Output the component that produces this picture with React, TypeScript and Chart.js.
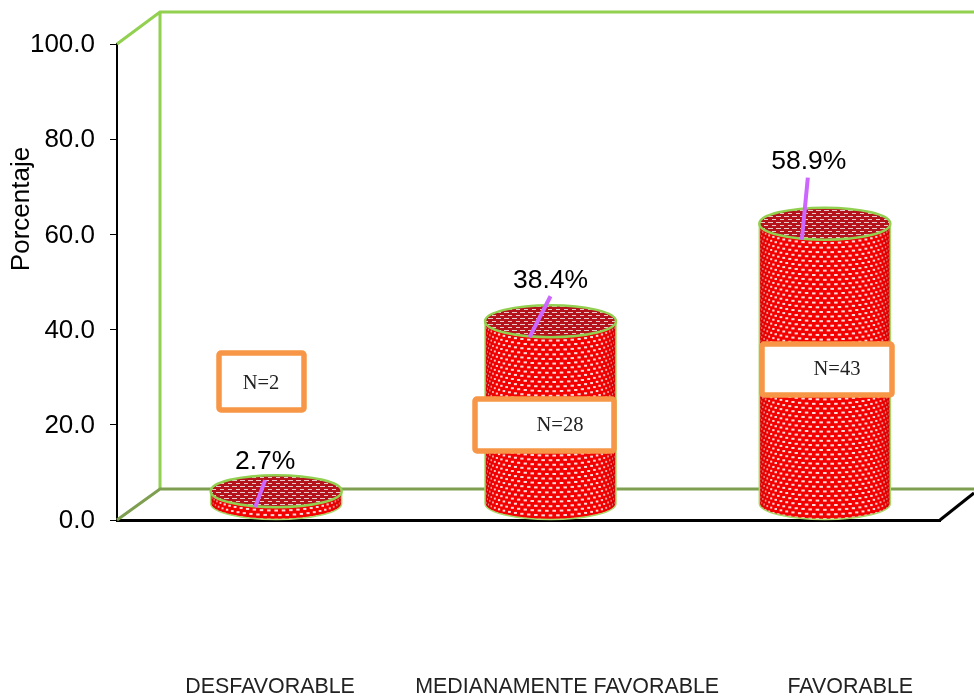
import React, { useEffect, useRef } from "react";
import { Chart, registerables } from "chart.js";

Chart.register(...registerables);

const categories = ["DESFAVORABLE", "MEDIANAMENTE FAVORABLE", "FAVORABLE"];
const percentages = [2.7, 38.4, 58.9];
const counts = [2, 28, 43];
const yTicks = [0, 20, 40, 60, 80, 100];
const axisTitle = "Porcentaje";

// layout of decorations (pixels / offsets, not data)
const SANS = "'Liberation Sans', Arial, sans-serif";
const SERIF = "'Liberation Serif', 'Times New Roman', serif";
const AREA = { left: 117, right: 940, top: 44, bottom: 520 };
const DEPTH = { x: 43, y: 31 };
const CYL = { shift: 22, rx: 65.5, ry: 16 };
const labelSlots = [0.186, 0.547, 0.891];
const leaders = [
  { bx: -21, tx: -11, ty: -27, lx: -11, ly: -46 },
  { bx: -21, tx: 0, ty: -41, lx: 0, ly: -58 },
  { bx: -23, tx: -17, ty: -62, lx: -16, ly: -79 },
];
const noteBoxes = [
  { x: 219, y: 353, w: 85, h: 57, tx: 261, ty: 383 },
  { x: 475, y: 399, w: 139, h: 52, tx: 560, ty: 425 },
  { x: 762, y: 344, w: 130, h: 51, tx: 837, ty: 369 },
];

function makePattern(ctx: CanvasRenderingContext2D, base: string, dot: string, dw: number, dh: number, sx: number, sy: number) {
  const c = document.createElement("canvas");
  c.width = sx;
  c.height = sy * 2;
  const g = c.getContext("2d")!;
  g.fillStyle = base;
  g.fillRect(0, 0, sx, sy * 2);
  g.fillStyle = dot;
  g.fillRect(0, 0, dw, dh);
  g.fillRect(sx / 2, sy, dw, dh);
  return ctx.createPattern(c, "repeat")!;
}

function drawSideTexture(ctx: CanvasRenderingContext2D, cx: number, topY: number, botY: number) {
  const rowGap = 4.6;
  const dTheta = 7.4 / CYL.rx;
  ctx.fillStyle = "#ffffff";
  let row = 0;
  for (let y = topY - CYL.ry; y < botY + CYL.ry; y += rowGap, row++) {
    const start = row % 2 ? dTheta / 2 : 0;
    for (let k = -14; k <= 14; k++) {
      const t = start + k * dTheta;
      if (Math.abs(t) > Math.PI / 2) continue;
      const w = 3.6 * Math.cos(t);
      const px = cx + CYL.rx * Math.sin(t);
      const py = y + CYL.ry * Math.cos(t);
      ctx.fillRect(px - w / 2, py, w, 2);
    }
  }
}

const scene = {
  id: "scene",
  beforeDatasetsDraw(chart: any) {
    const { ctx, chartArea: a } = chart;
    ctx.save();
    ctx.lineCap = "butt";
    // back wall
    ctx.strokeStyle = "#92d050";
    ctx.lineWidth = 3;
    ctx.beginPath();
    ctx.moveTo(a.left, a.top);
    ctx.lineTo(a.left + DEPTH.x, a.top - DEPTH.y - 1);
    ctx.lineTo(974, a.top - DEPTH.y - 1);
    ctx.moveTo(a.left + DEPTH.x, a.top - DEPTH.y - 1);
    ctx.lineTo(a.left + DEPTH.x, a.bottom - DEPTH.y);
    ctx.stroke();
    // back floor edge
    ctx.strokeStyle = "#7f9f50";
    ctx.beginPath();
    ctx.moveTo(a.left, a.bottom);
    ctx.lineTo(a.left + DEPTH.x, a.bottom - DEPTH.y);
    ctx.lineTo(974, a.bottom - DEPTH.y);
    ctx.stroke();
    // floor right edge
    ctx.strokeStyle = "#000";
    ctx.beginPath();
    ctx.moveTo(a.right, a.bottom);
    ctx.lineTo(974, a.bottom - 27);
    ctx.stroke();
    ctx.restore();
  },
  afterDatasetsDraw(chart: any) {
    const { ctx } = chart;
    const bars = chart.getDatasetMeta(0).data;
    const cap = makePattern(ctx, "#b5121b", "#e8cccc", 5, 1, 8, 3);
    ctx.save();
    bars.forEach((bar: any) => {
      const cx = bar.x + CYL.shift;
      const topY = bar.y - CYL.ry;
      const botY = bar.base - CYL.ry;
      // side
      const sidePath = new Path2D();
      sidePath.moveTo(cx - CYL.rx, topY);
      sidePath.lineTo(cx - CYL.rx, botY);
      sidePath.ellipse(cx, botY, CYL.rx, CYL.ry, 0, Math.PI, 0, true);
      sidePath.lineTo(cx + CYL.rx, topY);
      sidePath.closePath();
      ctx.fillStyle = "#f40000";
      ctx.fill(sidePath);
      ctx.save();
      ctx.clip(sidePath);
      drawSideTexture(ctx, cx, topY, botY);
      ctx.restore();
      const shade = ctx.createLinearGradient(cx - CYL.rx, 0, cx + CYL.rx, 0);
      shade.addColorStop(0, "rgba(190,0,0,0.6)");
      shade.addColorStop(0.1, "rgba(240,0,0,0.15)");
      shade.addColorStop(0.88, "rgba(240,0,0,0.15)");
      shade.addColorStop(1, "rgba(190,0,0,0.65)");
      ctx.fillStyle = shade;
      ctx.fill(sidePath);
      // side outline
      ctx.strokeStyle = "#a6d96a";
      ctx.lineWidth = 1.5;
      ctx.beginPath();
      ctx.moveTo(cx - CYL.rx, topY);
      ctx.lineTo(cx - CYL.rx, botY);
      ctx.ellipse(cx, botY, CYL.rx, CYL.ry, 0, Math.PI, 0, true);
      ctx.lineTo(cx + CYL.rx, topY);
      ctx.stroke();
      // top cap
      ctx.beginPath();
      ctx.ellipse(cx, topY, CYL.rx, CYL.ry, 0, 0, Math.PI * 2);
      ctx.fillStyle = cap;
      ctx.fill();
      ctx.strokeStyle = "#92d050";
      ctx.lineWidth = 2.5;
      ctx.stroke();
    });
    // leader lines and value labels
    bars.forEach((bar: any, i: number) => {
      const cx = bar.x + CYL.shift;
      const l = leaders[i];
      ctx.strokeStyle = "#cc66ff";
      ctx.lineWidth = 4;
      ctx.beginPath();
      ctx.moveTo(cx + l.bx, bar.y);
      ctx.lineTo(cx + l.tx, bar.y + l.ty);
      ctx.stroke();
      ctx.fillStyle = "#000";
      ctx.font = `26.5px ${SANS}`;
      ctx.textAlign = "center";
      ctx.textBaseline = "middle";
      ctx.fillText(`${percentages[i].toFixed(1)}%`, cx + l.lx, bar.y + l.ly + 1);
    });
    // N boxes
    noteBoxes.forEach((b, i) => {
      ctx.beginPath();
      ctx.roundRect(b.x, b.y, b.w, b.h, 2);
      ctx.fillStyle = "#fff";
      ctx.fill();
      ctx.strokeStyle = "#f79646";
      ctx.lineWidth = 5.5;
      ctx.stroke();
      ctx.fillStyle = "#222";
      ctx.font = `20.5px ${SERIF}`;
      ctx.textAlign = "center";
      ctx.textBaseline = "middle";
      ctx.fillText(`N=${counts[i]}`, b.tx, b.ty + 1);
    });
    // rotated axis title
    ctx.translate(22, 209);
    ctx.rotate(-Math.PI / 2);
    ctx.fillStyle = "#000";
    ctx.font = `26px ${SANS}`;
    ctx.textAlign = "center";
    ctx.textBaseline = "middle";
    ctx.fillText(axisTitle, 0, 0);
    ctx.restore();
  },
};

export default function App() {
  const ref = useRef<HTMLCanvasElement>(null);
  useEffect(() => {
    document.body.style.margin = "0";
    document.body.style.overflow = "hidden";
    const chart = new Chart(ref.current!, {
      type: "bar",
      data: {
        labels: categories,
        datasets: [
          {
            data: percentages,
            backgroundColor: "rgba(0,0,0,0)",
            borderWidth: 0,
            barThickness: 131,
          },
        ],
      },
      options: {
        animation: false,
        responsive: false,
        events: [],
        layout: { padding: { top: AREA.top, right: 974 - AREA.right, left: 0, bottom: 0 } },
        plugins: { legend: { display: false }, title: { display: false }, tooltip: { enabled: false } },
        scales: {
          x: { display: false },
          names: {
            type: "linear",
            position: "bottom",
            offset: false,
            min: 0,
            max: 1,
            afterBuildTicks: (s: any) => {
              s.ticks = labelSlots.map((value) => ({ value }));
            },
            afterFit: (s: any) => {
              s.height = 696 - AREA.bottom;
            },
            grid: {
              display: true,
              offset: false,
              drawOnChartArea: false,
              drawTicks: true,
              tickLength: 154,
              tickColor: "rgba(0,0,0,0)",
            },
            border: { display: true, color: "#000", width: 3 },
            ticks: {
              autoSkip: false,
              maxRotation: 0,
              minRotation: 0,
              padding: 0,
              color: "#222",
              font: { family: SANS, size: 21.4 },
              callback: (_v: any, i: number) => categories[i],
            },
          },
          y: {
            min: 0,
            max: 100,
            afterBuildTicks: (s: any) => {
              s.ticks = yTicks.map((value) => ({ value }));
            },
            afterFit: (s: any) => {
              s.width = AREA.left;
            },
            grid: { drawOnChartArea: false, color: "#000", tickLength: 7, lineWidth: 1 },
            border: { color: "#000", width: 2 },
            ticks: {
              color: "#000",
              padding: 15,
              labelOffset: 1,
              font: { family: SANS, size: 26 },
              callback: (v: any) => Number(v).toFixed(1),
            },
          },
        },
      } as any,
      plugins: [scene],
    });
    return () => chart.destroy();
  }, []);
  return <canvas ref={ref} width={974} height={696} style={{ display: "block" }} />;
}
